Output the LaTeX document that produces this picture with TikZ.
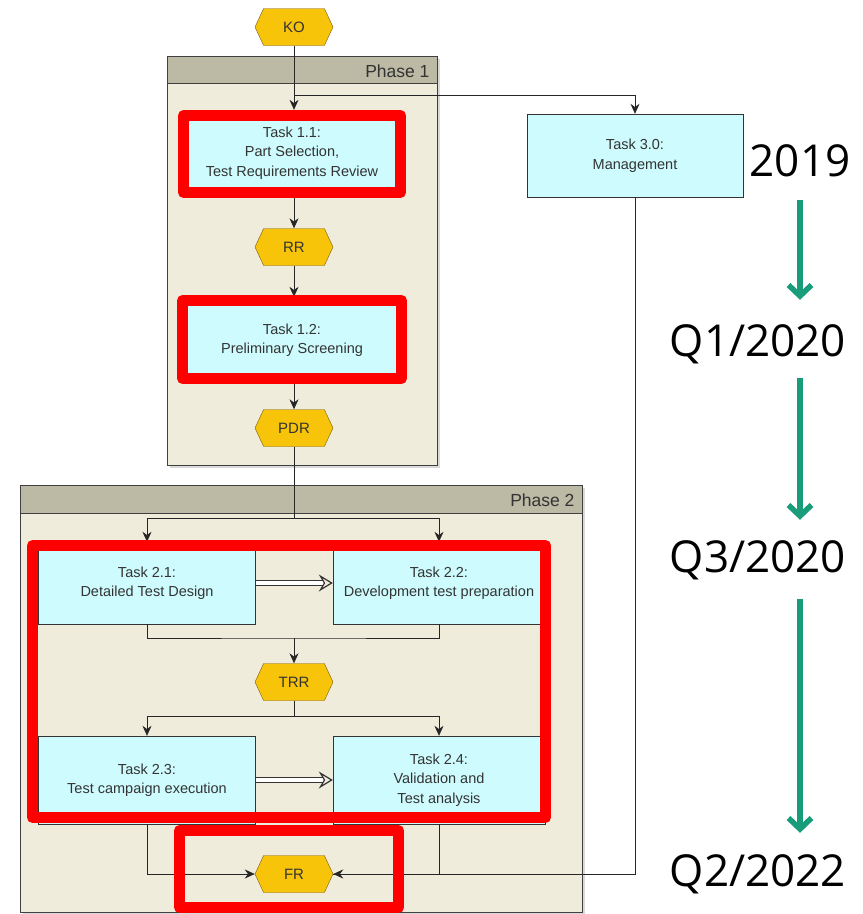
\documentclass[tikz,border=0pt]{standalone}
\usepackage{fontspec}
\setmainfont{Liberation Sans}
\newfontfamily\timefont{Open Sans}
\usepackage{tikz}
\usetikzlibrary{arrows.meta, positioning, shapes.symbols}
\usepackage{xcolor}
\definecolor{phasebg}{RGB}{240,236,219}
\definecolor{phasehead}{RGB}{188,185,164}
\definecolor{taskfill}{RGB}{206,251,253}
\definecolor{hexfill}{RGB}{247,196,10}
\definecolor{hexdraw}{RGB}{120,92,20}
\definecolor{markred}{RGB}{255,0,0}
\definecolor{timegreen}{RGB}{24,156,122}

\begin{document}
\begin{tikzpicture}[x=1pt, y=-1pt,
  task/.style={rectangle, draw=black!80, fill=taskfill, align=center, text=black!80,
    font=\fontsize{14.5}{19.5}\selectfont, inner sep=2pt},
  milestone/.style={signal, signal to=east and west, signal pointer angle=130,
    draw=hexdraw, fill=hexfill, text=black!80, minimum width=78pt, minimum height=37pt,
    inner sep=0pt, font=\fontsize{15}{17}\selectfont},
  phase/.style={draw=black!75, fill=phasebg, line width=0.8pt},
  flow/.style={-{Stealth[length=10pt, width=9pt]}, black!85, line width=0.8pt},
  link/.style={black!85, line width=0.8pt},
  handover/.style={double=white, double distance=3.5pt, black!80, line width=0.9pt,
    -{Stealth[open, length=14pt, width=17pt, inset=5pt, fill=phasebg, line width=1.2pt]}},
  redmark/.style={draw=markred, line width=11pt, line join=round},
  phaselabel/.style={anchor=east, font=\fontsize{17.5}{20}\selectfont, text=black!80},
  timelabel/.style={inner sep=0pt, text height=32pt, text depth=0pt,
    font=\timefont\fontsize{44}{50}\selectfont},
  timearrow/.style={timegreen, line width=6.5pt,
    -{Straight Barb[length=11pt, width=23pt, line width=5.5pt]}}
]
  \useasboundingbox (0,0) rectangle (863,914);
  \fill[white] (0,0) rectangle (863,914);

  % Phase frames
  \fill[black!15] (170,59) rectangle (440,468);
  \draw[phase] (167,56) rectangle (437,465);
  \draw[phase, fill=phasehead] (167,56) rectangle (437,83);
  \node[phaselabel] (ph1) at (433,71) {Phase 1};
  \fill[black!15] (23,488) rectangle (585,914);
  \draw[phase] (20,485) rectangle (582,912);
  \draw[phase, fill=phasehead] (20,485) rectangle (582,513);
  \node[phaselabel] (ph2) at (578,500) {Phase 2};

  % Milestones
  \node[milestone] (ko) at (294,27) {KO};
  \node[milestone] (rr) at (294,247) {RR};
  \node[milestone] (pdr) at (294,428) {PDR};
  \node[milestone] (trr) at (294,682) {TRR};
  \node[milestone] (fr) at (294,874) {FR};

  % Tasks
  \node[task, minimum width=216pt, minimum height=86pt] (t11) at (292,153)
    {Task 1.1:\\Part Selection,\\Test Requirements Review};
  \node[task, minimum width=216pt, minimum height=86pt] (t12) at (292,340)
    {Task 1.2:\\Preliminary Screening};
  \node[task, minimum width=216pt, minimum height=83pt] (t30) at (635,155.5)
    {Task 3.0:\\Management};
  \node[task, minimum width=217pt, minimum height=82pt] (t21) at (147,583)
    {Task 2.1:\\Detailed Test Design};
  \node[task, minimum width=212pt, minimum height=82pt] (t22) at (439,583)
    {Task 2.2:\\Development test preparation};
  \node[task, minimum width=217pt, minimum height=88pt] (t23) at (147,780)
    {Task 2.3:\\Test campaign execution};
  \node[task, minimum width=212pt, minimum height=88pt] (t24) at (439,780)
    {Task 2.4:\\Validation and\\Test analysis};

  % Phase 1 flow
  \coordinate (split1) at (294,95);
  \draw[flow] (ko.south) -- (ko.south |- t11.north);
  \draw[flow] (split1) -| (t30.north);
  \draw[flow] (ko.south |- t11.south) -- (rr.north);
  \draw[flow] (rr.south) -- (rr.south |- t12.north);
  \draw[flow] (rr.south |- t12.south) -- (pdr.north);

  % Phase 2 flow
  \coordinate (split2) at (294,518);
  \coordinate (join1) at (294,638);
  \coordinate (split3) at (294,716);
  \draw[link] (pdr.south) -- (split2);
  \draw[flow] (split2) -| (t21.north);
  \draw[flow] (split2) -| (t22.north);
  \draw[link] (t21.south) |- (join1) -| (t22.south);
  \draw[flow] (join1) -- (trr.north);
  \draw[link] (trr.south) -- (split3);
  \draw[flow] (split3) -| (t23.north);
  \draw[flow] (split3) -| (t24.north);
  \draw[handover] (t21.east) -- (t22.west);
  \draw[handover] (t23.east) -- (t24.west);
  \draw[flow] (t23.south) |- (fr.west);
  \draw[link] (t24.south) |- (fr.east);
  \draw[flow] (t30.south) |- (fr.east);

  % Red highlights
  \draw[redmark] (183.5,115.5) rectangle (400.5,192.5);
  \draw[redmark] (182.5,300.5) rectangle (401.5,378.5);
  \draw[redmark] (32.5,545.5) rectangle (545.5,817.5);
  \draw[redmark] (179.5,830.5) rectangle (398.5,907.5);

  % Timeline
  \node[timelabel] (y2019) at (800,160) {2019};
  \node[timelabel] (q1) at (758,340) {Q1/2020};
  \node[timelabel] (q3) at (758,556) {Q3/2020};
  \node[timelabel] (q2) at (758,870) {Q2/2022};
  \draw[timearrow, shorten <=24pt, shorten >=24pt] (y2019.south) -- (y2019.south |- q1.north);
  \draw[timearrow, shorten <=22pt, shorten >=20pt] (q1.south -| y2019) -- (q3.north -| y2019);
  \draw[timearrow, shorten <=27pt, shorten >=21pt] (q3.south -| y2019) -- (q2.north -| y2019);
\end{tikzpicture}
\end{document}
